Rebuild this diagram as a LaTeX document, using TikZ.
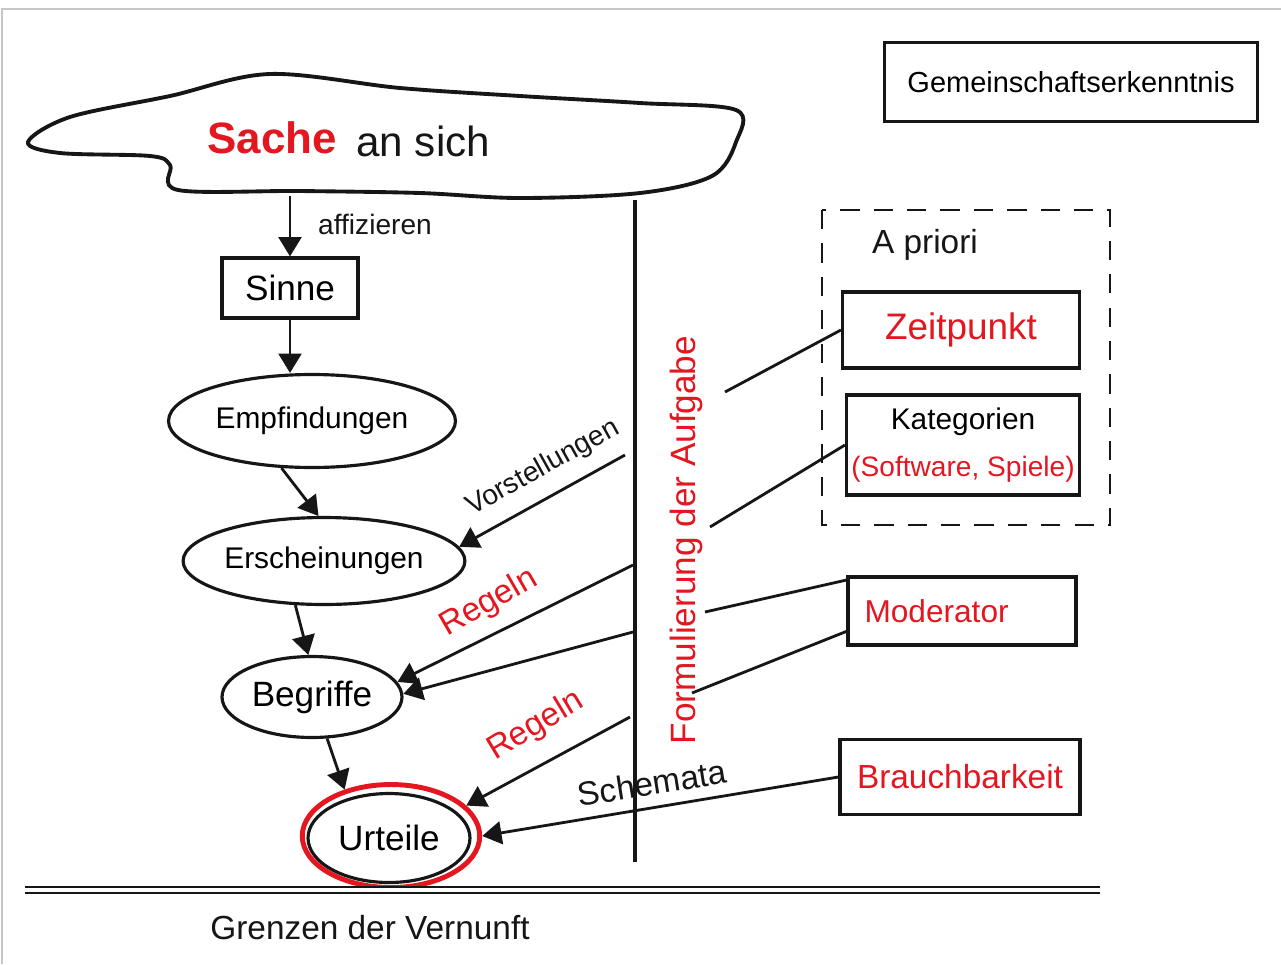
\documentclass[tikz,border=0pt]{standalone}
\usepackage{fontspec}
\setmainfont{Liberation Sans}
\usetikzlibrary{arrows.meta,shapes.geometric}
\definecolor{pen}{RGB}{228,22,32}
\definecolor{ink}{RGB}{22,22,22}
\newcommand{\setsz}[1]{\fontsize{#1}{#1}\selectfont}
\tikzset{
  stroke/.style={draw=ink, line width=1.8pt},
  box/.style={stroke, rectangle, inner sep=0pt},
  oval/.style={stroke, ellipse, inner sep=0pt},
  arr/.style={ink, line width=1.6pt, -{Triangle[width=13pt,length=11pt]}},
  link/.style={ink, line width=1.6pt},
  lbl/.style={text=ink, inner sep=0pt},
}
\begin{document}
\begin{tikzpicture}[x=0.02cm, y=-0.02cm]
\useasboundingbox (0,0) rectangle (1281,964);
\draw[gray!45, line width=1pt] (2,964) -- (2,9) -- (1281,9);

\draw[stroke, line width=2.2pt] plot[smooth cycle, tension=0.55] coordinates {
  (28,142) (70,117) (170,96) (270,74) (400,88) (520,96) (640,103) (736,110)
  (736,142) (712,176) (640,193) (520,198) (420,193) (300,191) (178,190)
  (170,165) (150,156) (60,153)};
\node[lbl, text=pen, font=\setsz{25}\bfseries] (sache) at (272,138) {Sache};
\node[lbl, font=\setsz{24}, anchor=west] (ansich) at (356,141) {an sich};
\coordinate (cloudbot) at (290,196);

\node[box, minimum width=2.72cm, minimum height=1.2cm, font=\setsz{20}] (sinne) at (290,288) {Sinne};
\node[oval, minimum width=5.74cm, minimum height=1.86cm, font=\setsz{17}] (empf) at (312,421) {Empfindungen};
\node[oval, minimum width=5.36cm, minimum height=1.74cm, font=\setsz{17}] (ersch) at (324,561) {Erscheinungen};
\node[oval, minimum width=3.6cm, minimum height=1.62cm, font=\setsz{20}] (begr) at (312,697) {Begriffe};
\node[ellipse, draw=pen, line width=2.8pt, minimum width=3.55cm, minimum height=2.06cm] (ring) at (391,836) {};
\node[oval, minimum width=3.24cm, minimum height=1.78cm, font=\setsz{20}] (urt) at (389,838) {Urteile};

\draw[arr] (cloudbot) -- (sinne.north -| cloudbot);
\node[lbl, font=\setsz{16}] (affiz) at (375,224) {affizieren};
\draw[arr] (sinne.south) -- (empf.north -| sinne.south);
\draw[arr] (empf.237) -- (ersch.97);
\draw[arr] (ersch.237) -- (begr.95);
\draw[arr] (begr.290) -- (ring.135);

\coordinate (vtop) at (635,200);
\coordinate (vbot) at (635,862);
\draw[link, line width=1.8pt] (vtop) -- (vbot);
\node[lbl, text=pen, rotate=90, font=\setsz{20}] (aufgabe) at (686,540) {Formulierung der Aufgabe};

\coordinate (vstart) at (625,455);
\coordinate (r1) at (633,565);
\coordinate (r2) at (633,632);
\coordinate (r3) at (630,717);
\draw[arr] (vstart) -- (ersch.6);
\node[lbl, rotate=29, font=\setsz{16}] (vorst) at (543,468) {Vorstellungen};
\draw[arr] (r1) -- (begr.10);
\draw[arr] (r2) -- (begr.2);
\node[lbl, text=pen, rotate=30, font=\setsz{19}] (regeln1) at (489,603) {Regeln};
\draw[arr] (r3) -- (ring.22);
\node[lbl, text=pen, rotate=31, font=\setsz{19}] (regeln2) at (536,726) {Regeln};

\node[box, minimum width=7.46cm, minimum height=1.58cm, font=\setsz{16.5}] (gemein) at (1071,82) {Gemeinschaftserkenntnis};

\draw[ink, line width=1.5pt, dash pattern=on 11pt off 8pt] (822,210) rectangle (1110,525);
\node[lbl, font=\setsz{19}] (apriori) at (925,245) {A priori};
\node[box, minimum width=4.74cm, minimum height=1.52cm, text=pen, font=\setsz{21}] (zeit) at (961,330) {Zeitpunkt};
\node[box, minimum width=4.66cm, minimum height=2.0cm, align=center, font=\fontsize{17}{27}\selectfont] (kat) at (963,445) {Kategorien\\\textcolor{pen}{\setsz{16}(Software, Spiele)}};
\node[box, minimum width=4.56cm, minimum height=1.36cm, text width=3.9cm, align=left, text=pen, font=\setsz{18}] (mod) at (962,611) {Moderator};
\node[box, minimum width=4.8cm, minimum height=1.5cm, text=pen, font=\setsz{19}] (brauch) at (960,777) {Brauchbarkeit};

\coordinate (zfree) at (725,392);
\coordinate (kfree) at (710,527);
\coordinate (mfree1) at (705,612);
\coordinate (mfree2) at (692,693);
\draw[link] (zeit.west) -- (zfree);
\draw[link] (kat.west) -- (kfree);
\draw[link] (mod.165) -- (mfree1);
\draw[link] (mod.190) -- (mfree2);
\draw[arr] (brauch.west) -- (ring.east);
\node[lbl, rotate=9, font=\setsz{19}] (schem) at (652,783) {Schemata};

\coordinate (limA) at (25,890);
\coordinate (limB) at (1100,890);
\draw[ink, line width=1.3pt, double, double distance=2.2pt] (limA) -- (limB);
\node[lbl, font=\setsz{19}] (grenzen) at (370,928) {Grenzen der Vernunft};
\end{tikzpicture}
\end{document}
